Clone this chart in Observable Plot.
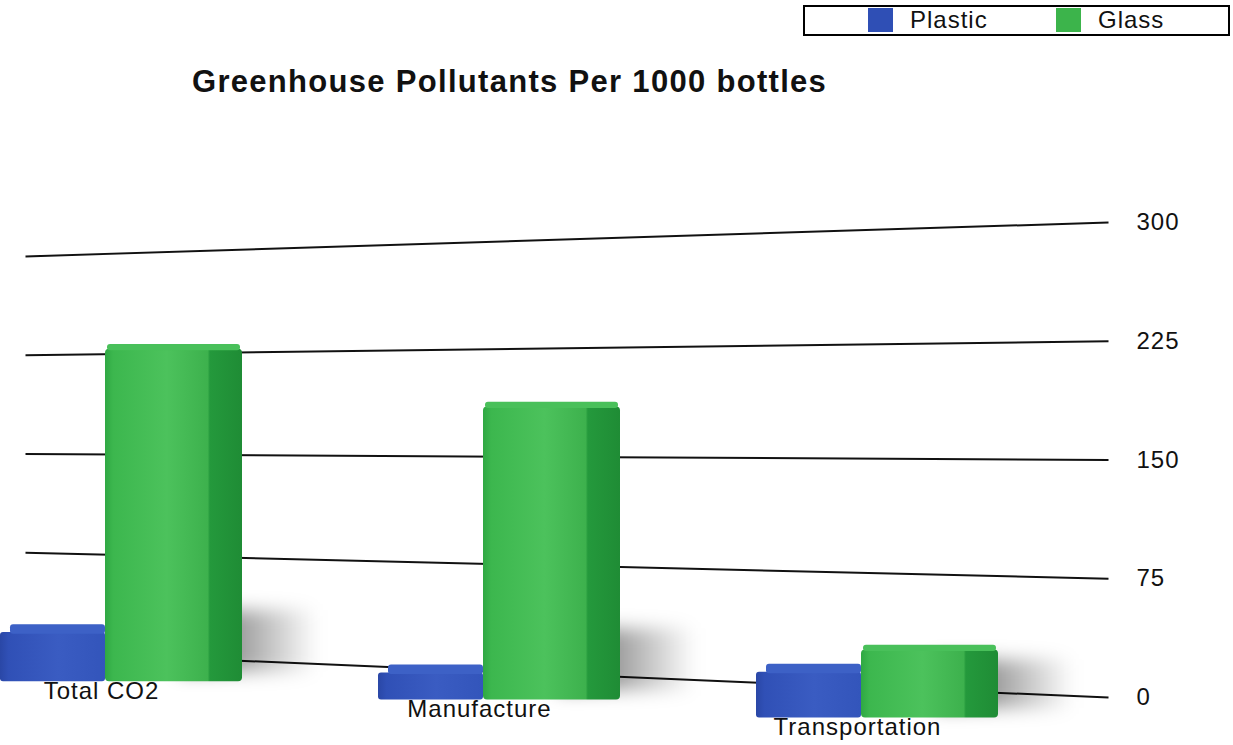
<!DOCTYPE html>
<html><head><meta charset="utf-8">
<script src="https://cdn.jsdelivr.net/npm/d3@7"></script>
<script src="https://cdn.jsdelivr.net/npm/@observablehq/plot@0.6"></script>
<style>
html,body{margin:0;padding:0;background:#fff;overflow:hidden;}
#wrap{position:relative;width:1233px;height:745px;overflow:hidden;font-family:"Liberation Sans",Arial,sans-serif;}
#wrap svg{position:absolute;left:0;top:0;}
#title{position:absolute;left:192px;top:64px;font-size:31px;font-weight:bold;letter-spacing:1.3px;color:#111;white-space:nowrap;z-index:5;}
#legend{position:absolute;left:803px;top:5px;width:427px;height:31px;border:2px solid #000;box-sizing:border-box;background:#fff;z-index:5;}
.sw{position:absolute;top:1px;width:25px;height:24px;}
.lt{position:absolute;top:-1px;font-size:24px;line-height:28px;letter-spacing:1px;color:#111;}
</style></head>
<body>
<div id="wrap"></div>
<script>
// ---- data ----
const categories = ["Total CO2", "Manufacture", "Transportation"];
const series = ["Plastic", "Glass"];
const plasticValues = [36, 22, 34];
const glassValues = [213, 188, 46];
const yTicks = [0, 75, 150, 225, 300];
const titleText = "Greenhouse Pollutants Per 1000 bottles";

// ---- styling / perspective constants ----
const colors = {Plastic: "#2f4fb5", Glass: "#3cb44b"};
const FAR_SCALE = 0.832, FAR_SHIFT = 29;      // far (left) end of the receding gridlines
const FLOOR_NEAR = 10, FLOOR_STEP = -11.5;    // bar floor drifting down along the tilted base
const floorOf = i => FLOOR_NEAR + FLOOR_STEP * i;
const yDomain = [-30.3, 440.2];
const PLASTIC_W = 105, GLASS_W = 137;         // widths of the two boxes inside a 242px band
const font = "Liberation Sans, Arial, sans-serif";

const rows = categories.flatMap((c, i) => [
  {category: c, series: "Plastic", value: plasticValues[i], i},
  {category: c, series: "Glass", value: glassValues[i], i}
]);
const plasticRows = rows.filter(d => d.series === "Plastic");
const glassRows = rows.filter(d => d.series === "Glass");

const wrap = document.getElementById("wrap");

// ---- gridline layer ----
const grid = Plot.plot({
  width: 1233, height: 745,
  marginLeft: 25, marginRight: 125, marginTop: 0, marginBottom: 0,
  style: {fontFamily: font, fontSize: "24px", color: "#111", background: "transparent", letterSpacing: "1px"},
  x: {domain: [0, 1], axis: null},
  y: {domain: yDomain, axis: "right", ticks: yTicks, tickSize: 0, tickPadding: 28, label: null, tickFormat: d => String(d)},
  marks: [
    Plot.link(yTicks, {x1: () => 0, x2: () => 1, y1: v => FAR_SHIFT + FAR_SCALE * v, y2: v => v, stroke: "#111", strokeWidth: 2})
  ]
});
wrap.appendChild(grid);

// ---- bar layer ----
const bars = Plot.plot({
  width: 1233, height: 745,
  marginLeft: 0, marginRight: 235, marginTop: 0, marginBottom: 0,
  style: {fontFamily: font, fontSize: "24px", color: "#111", background: "transparent", letterSpacing: "1px", overflow: "visible"},
  x: {domain: categories, paddingInner: 0.3598, paddingOuter: 0, axis: null},
  y: {domain: yDomain, axis: null},
  marks: [
    // soft cast shadows
    Plot.barY(glassRows, {x: "category", y1: d => floorOf(d.i) + 6, y2: d => floorOf(d.i) + Math.min(d.value * 0.8, 45),
      insetLeft: PLASTIC_W, dx: 75, fill: "url(#shadowGrad)"}),
    // plastic boxes
    Plot.barY(plasticRows, {x: "category", y1: d => floorOf(d.i), y2: d => floorOf(d.i) + d.value - 5,
      insetRight: GLASS_W, fill: "url(#gPlastic)", rx: 3}),
    Plot.barY(plasticRows, {x: "category", y1: d => floorOf(d.i) + d.value - 6, y2: d => floorOf(d.i) + d.value,
      insetRight: GLASS_W, insetLeft: 10, fill: "#3d61c6", rx: 3}),
    // glass boxes
    Plot.barY(glassRows, {x: "category", y1: d => floorOf(d.i), y2: d => floorOf(d.i) + d.value - 3,
      insetLeft: PLASTIC_W, fill: "url(#gGlass)", rx: 4}),
    Plot.barY(glassRows, {x: "category", y1: d => floorOf(d.i) + d.value - 4, y2: d => floorOf(d.i) + d.value,
      insetLeft: PLASTIC_W + 2, insetRight: 2, fill: "#49c05a", rx: 3}),
    // category labels
    Plot.text(categories, {x: d => d, y: (d, i) => floorOf(i) - 6, text: d => d, dx: -20, fontSize: 24, fill: "#111"})
  ]
});
wrap.appendChild(bars);

// gradient / filter definitions
const defs = d3.select(bars).insert("defs", ":first-child");
function grad(id, stops) {
  const g = defs.append("linearGradient").attr("id", id).attr("x1", "0%").attr("y1", "0%").attr("x2", "100%").attr("y2", "0%");
  stops.forEach(([o, c, a]) => g.append("stop").attr("offset", o).attr("stop-color", c).attr("stop-opacity", a ?? 1));
}
grad("gPlastic", [[0, "#2a47a6"], [0.08, "#3050b6"], [0.55, "#3a5cc2"], [1, "#3355bb"]]);
grad("gGlass", [[0, "#2fa843"], [0.06, "#3cb74e"], [0.45, "#4cc25c"], [0.75, "#3db14d"], [0.765, "#24993c"], [1, "#1f8c35"]]);
grad("shadowGrad", [[0, "#000", 0.6], [0.4, "#000", 0.4], [1, "#000", 0]]);
const f = defs.append("filter").attr("id", "softBlur").attr("x", "-60%").attr("y", "-100%").attr("width", "220%").attr("height", "300%");
f.append("feGaussianBlur").attr("stdDeviation", 9);
d3.select(bars).selectAll('[fill="url(#shadowGrad)"]').attr("filter", "url(#softBlur)");

// ---- title & legend ----
const title = document.createElement("div");
title.id = "title"; title.textContent = titleText;
wrap.appendChild(title);
const legend = document.createElement("div");
legend.id = "legend";
const legendPos = {Plastic: [63, 105], Glass: [251, 293]};
series.forEach(s => {
  const sw = document.createElement("div");
  sw.className = "sw"; sw.style.left = legendPos[s][0] + "px"; sw.style.background = colors[s];
  const t = document.createElement("div");
  t.className = "lt"; t.style.left = legendPos[s][1] + "px"; t.textContent = s;
  legend.appendChild(sw); legend.appendChild(t);
});
wrap.appendChild(legend);
</script>
</body></html>
